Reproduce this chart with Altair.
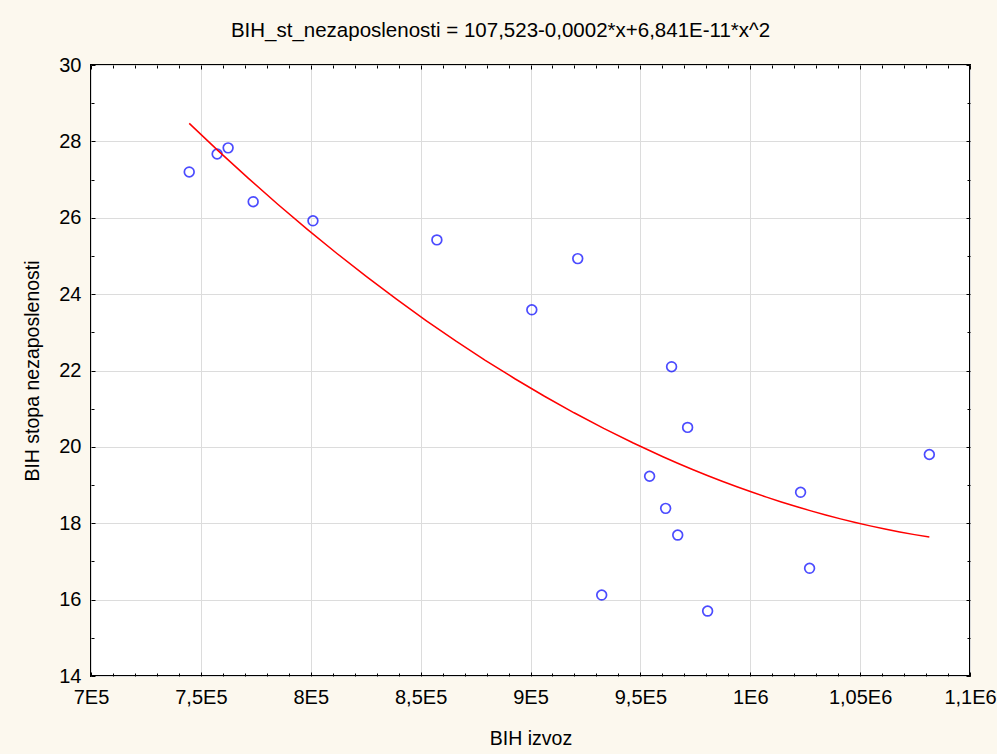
import altair as alt
import pandas as pd

# Data
izvoz = [744700, 757400, 762400, 773800, 801000, 857400, 900600, 921500, 932400,
         954200, 961500, 964200, 967000, 971500, 980600, 1022900, 1027000, 1081500]
stopa = [27.20, 27.67, 27.83, 26.42, 25.92, 25.42, 23.59, 24.93, 16.12,
         19.23, 18.39, 22.10, 17.69, 20.51, 15.70, 18.81, 16.82, 19.80]

x_major = [700000, 750000, 800000, 850000, 900000, 950000, 1000000, 1050000, 1100000]
x_labels = ["7E5", "7,5E5", "8E5", "8,5E5", "9E5", "9,5E5", "1E6", "1,05E6", "1,1E6"]
x_minor = [v for v in range(700000, 1100001, 10000) if v % 50000 != 0]
y_major = [14, 16, 18, 20, 22, 24, 26, 28, 30]
y_minor = [15, 17, 19, 21, 23, 25, 27, 29]

title_text = "BIH_st_nezaposlenosti  =  107,523-0,0002*x+6,841E-11*x^2"
FONT = "Liberation Sans"

df = pd.DataFrame({"izvoz": izvoz, "stopa": stopa})
base = alt.Chart(df)

xs = alt.Scale(domain=[700000, 1100000], nice=False, zero=False)
ys = alt.Scale(domain=[14, 30], nice=False, zero=False)

label_expr = "[" + ",".join("'%s'" % l for l in x_labels) + "][round((datum.value-700000)/50000)]"

points = base.mark_point(shape="circle", filled=False, color="#0000ff",
                         size=95, strokeWidth=1.7).encode(
    x=alt.X("izvoz:Q", scale=xs,
            axis=alt.Axis(orient="bottom", values=x_major, labelExpr=label_expr,
                          title="BIH izvoz", grid=True, ticks=False, domain=False,
                          labelPadding=11, titlePadding=22, labelFlush=False)),
    y=alt.Y("stopa:Q", scale=ys,
            axis=alt.Axis(orient="left", values=y_major, title="BIH stopa nezaposlenosti",
                          grid=True, ticks=False, domain=False,
                          labelPadding=10, titlePadding=16)),
)

fit = base.transform_regression("izvoz", "stopa", method="poly", order=2).mark_line(
    color="#ff0000", strokeWidth=1.5).encode(
    x=alt.X("izvoz:Q", scale=xs, axis=None),
    y=alt.Y("stopa:Q", scale=ys, axis=None),
)


def tick_layer(xorient, yorient, xvals, yvals, size):
    return base.mark_point(opacity=0).encode(
        x=alt.X("izvoz:Q", scale=xs,
                axis=alt.Axis(orient=xorient, values=xvals, labels=False, domain=False,
                              grid=False, ticks=True, tickSize=size, offset=-size,
                              tickColor="black", tickWidth=1, title=None)),
        y=alt.Y("stopa:Q", scale=ys,
                axis=alt.Axis(orient=yorient, values=yvals, labels=False, domain=False,
                              grid=False, ticks=True, tickSize=size, offset=-size,
                              tickColor="black", tickWidth=1, title=None)),
    )


chart = alt.layer(
    points,
    fit,
    tick_layer("bottom", "left", x_major, y_major, 4),
    tick_layer("top", "right", x_major, y_major, 4),
    tick_layer("bottom", "left", x_minor, y_minor, 3),
    tick_layer("top", "right", x_minor, y_minor, 3),
).resolve_axis(
    x="independent", y="independent"
).properties(
    width=879,
    height=611,
    title=alt.TitleParams(title_text, fontSize=20.5, font=FONT, fontWeight="normal",
                          color="black", anchor="middle", dx=-30, offset=14),
    autosize=alt.AutoSizeParams(type="none"),
    padding={"left": 91, "top": 65, "right": 27, "bottom": 78},
    background="#fcf8ee",
).configure_view(
    stroke="black", strokeWidth=2, fill="white"
).configure_axis(
    labelFont=FONT, titleFont=FONT, labelFontSize=20, titleFontSize=19.5,
    labelColor="black", titleColor="black", titleFontWeight="normal",
    gridColor="#dcdcdc", gridWidth=1,
)

chart.save("out.html", embed_options={"renderer": "svg", "actions": False})
